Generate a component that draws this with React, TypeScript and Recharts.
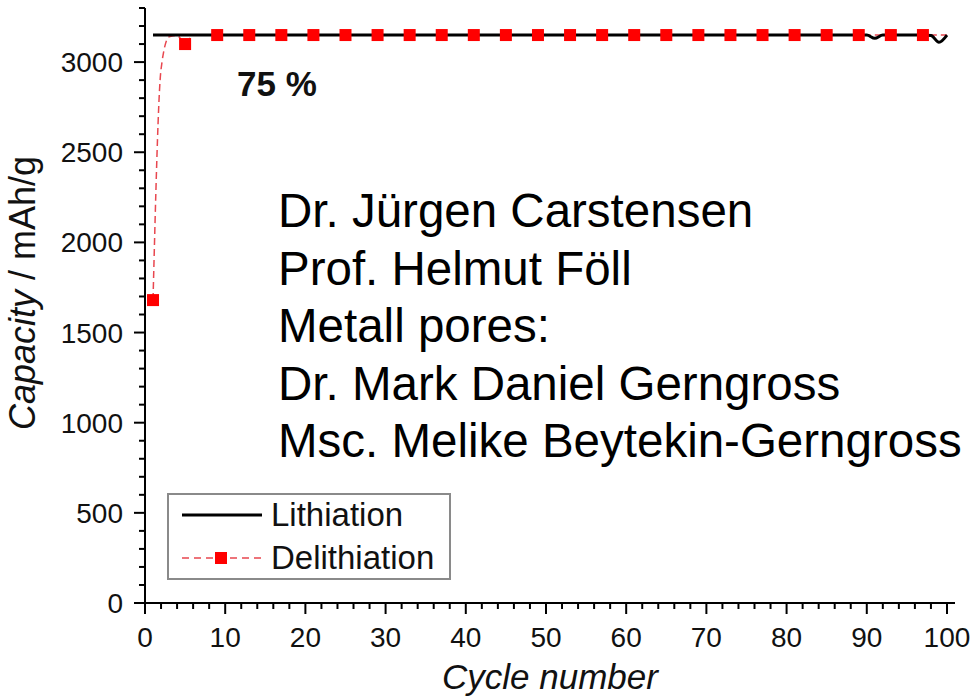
import { LineChart, Line, XAxis, YAxis, Legend, Label } from "recharts";

// cycle numbers and capacities (mAh/g)
const lithCycles = [1, 5, 9, 45, 89, 90, 91, 92, 97, 98, 99, 100];
const lithValues = [3150, 3150, 3150, 3150, 3150, 3150, 3132, 3150, 3150, 3148, 3110, 3150];

const delithCycles = [1, 2, 3, 4, 5, 6, 9, 13, 17, 21, 25, 29, 33, 37, 41, 45, 49, 53, 57, 61, 65, 69, 73, 77, 81, 85, 89, 93, 97, 100];
const delithValues = [1680, 2960, 3140, 3148, 3100, 3150, 3150, 3150, 3150, 3150, 3150, 3150, 3150, 3150, 3150, 3150, 3150, 3150, 3150, 3150, 3150, 3150, 3150, 3150, 3150, 3150, 3150, 3150, 3150, 3150];
// cycles where Origin drew a symbol
const delithSymbolCycles = [1, 5, 9, 13, 17, 21, 25, 29, 33, 37, 41, 45, 49, 53, 57, 61, 65, 69, 73, 77, 81, 85, 89, 93, 97];

const xMajor = [0, 10, 20, 30, 40, 50, 60, 70, 80, 90, 100];
const yMajor = [0, 500, 1000, 1500, 2000, 2500, 3000];
const xMinorStep = 2;
const yMinorStep = 100;

const names = [
  "Dr. Jürgen Carstensen",
  "Prof. Helmut Föll",
  "Metall pores:",
  "Dr. Mark Daniel Gerngross",
  "Msc. Melike Beytekin-Gerngross",
];

const lithData = lithCycles.map((c, i) => ({ cycle: c, lith: lithValues[i] }));
const delithData = delithCycles.map((c, i) => ({ cycle: c, delith: delithValues[i] }));

const xTicks = Array.from({ length: 100 / xMinorStep + 1 }, (_, i) => i * xMinorStep);
const yTicks = Array.from({ length: 3300 / yMinorStep + 1 }, (_, i) => i * yMinorStep);

const FONT = "'Liberation Sans', Arial, sans-serif";

const XTick = (props: any) => {
  const { x, y, payload } = props;
  const major = xMajor.includes(payload.value);
  return (
    <g>
      <line x1={x} x2={x} y1={y} y2={y + (major ? 11 : 6)} stroke="#000" strokeWidth={2} />
      {major && (
        <text x={x} y={y + 44} textAnchor="middle" fontSize={28} fontFamily={FONT} fill="#111">
          {payload.value}
        </text>
      )}
    </g>
  );
};

const YTick = (props: any) => {
  const { x, y, payload } = props;
  const major = yMajor.includes(payload.value);
  return (
    <g>
      <line x1={x} x2={x - (major ? 11 : 6)} y1={y} y2={y} stroke="#000" strokeWidth={2} />
      {major && (
        <text x={x - 22} y={y + 10} textAnchor="end" fontSize={28} fontFamily={FONT} fill="#111">
          {payload.value}
        </text>
      )}
    </g>
  );
};

const SquareDot = (props: any) => {
  const { cx, cy, payload, index } = props;
  if (!delithSymbolCycles.includes(payload.cycle)) return <g key={index} />;
  return <rect key={index} x={cx - 6} y={cy - 6} width={12} height={12} fill="#f00" />;
};

const LegendBox = () => (
  <div
    style={{
      position: "relative",
      width: 280,
      height: 83,
      border: "2px solid #8a8a8a",
      background: "#fff",
      fontFamily: FONT,
      fontSize: 33,
      color: "#111",
    }}
  >
    <svg width={100} height={83} style={{ position: "absolute", left: 0, top: 0 }}>
      <line x1={13} x2={93} y1={20} y2={20} stroke="#000" strokeWidth={3} />
      <line x1={13} x2={93} y1={63} y2={63} stroke="#e8474f" strokeWidth={1.5} strokeDasharray="7 5" />
      <rect x={46} y={57} width={12} height={12} fill="#f00" />
    </svg>
    <div style={{ position: "absolute", left: 102, top: 0, lineHeight: "40px" }}>Lithiation</div>
    <div style={{ position: "absolute", left: 102, top: 43, lineHeight: "40px" }}>Delithiation</div>
  </div>
);

export default function App() {
  return (
    <div style={{ position: "absolute", left: 0, top: 0, width: 971, height: 700, background: "#fff" }}>
      <LineChart width={971} height={700} margin={{ top: 8, right: 16, left: 0, bottom: 0 }}>
        <XAxis
          type="number"
          dataKey="cycle"
          domain={[0, 101]}
          ticks={xTicks}
          interval={0}
          tick={<XTick />}
          tickLine={false}
          tickSize={0}
          tickMargin={0}
          height={97}
          axisLine={{ stroke: "#000", strokeWidth: 2 }}
          allowDuplicatedCategory={false}
        >
          <Label
            content={() => (
              <text x={550} y={689} textAnchor="middle" fontSize={35} fontStyle="italic" fontFamily={FONT} fill="#111">
                Cycle number
              </text>
            )}
          />
        </XAxis>
        <YAxis
          type="number"
          domain={[0, 3300]}
          ticks={yTicks}
          interval={0}
          tick={<YTick />}
          tickLine={false}
          tickSize={0}
          tickMargin={0}
          width={145}
          axisLine={{ stroke: "#000", strokeWidth: 2 }}
        >
          <Label
            content={() => (
              <text
                x={35}
                y={293}
                transform="rotate(-90 35 293)"
                textAnchor="middle"
                fontSize={36}
                fontFamily={FONT}
                fill="#111"
              >
                <tspan fontStyle="italic">Capacity</tspan>
                <tspan> / mAh/g</tspan>
              </text>
            )}
          />
        </YAxis>
        <Legend
          layout="horizontal"
          verticalAlign="middle"
          align="center"
          content={() => <LegendBox />}
          wrapperStyle={{ position: "absolute", left: 167, top: 493, width: 284, height: 87 }}
        />
        <Line
          data={delithData}
          dataKey="delith"
          name="Delithiation"
          type="monotone"
          stroke="#e8474f"
          strokeWidth={1.5}
          strokeDasharray="7 4"
          dot={<SquareDot />}
          activeDot={false}
          isAnimationActive={false}
        />
        <Line
          data={lithData}
          dataKey="lith"
          name="Lithiation"
          type="monotone"
          stroke="#000"
          strokeWidth={3}
          dot={false}
          activeDot={false}
          isAnimationActive={false}
        />
      </LineChart>
      <div
        style={{
          position: "absolute",
          left: 237,
          top: 64,
          fontFamily: FONT,
          fontWeight: "bold",
          fontSize: 35,
          color: "#111",
          lineHeight: "40px",
        }}
      >
        75 %
      </div>
      <div
        style={{
          position: "absolute",
          left: 278,
          top: 182,
          fontFamily: FONT,
          fontSize: 47.5,
          color: "#000",
          lineHeight: "57.5px",
          whiteSpace: "nowrap",
        }}
      >
        {names.map((n) => (
          <div key={n}>{n}</div>
        ))}
      </div>
    </div>
  );
}
